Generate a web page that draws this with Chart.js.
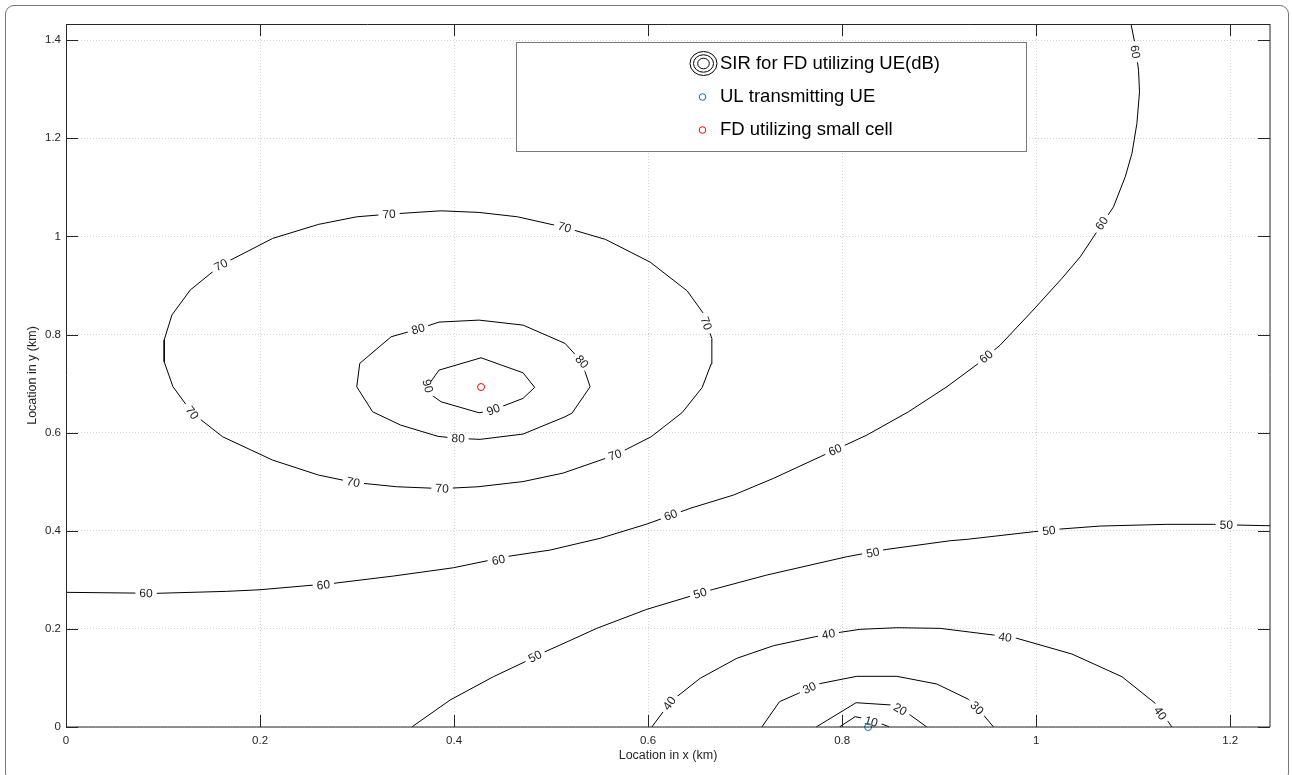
<!DOCTYPE html>
<html lang="en">
<head>
<meta charset="UTF-8">
<title>SIR for FD utilizing UE</title>
<script src="https://cdn.jsdelivr.net/npm/chart.js"></script>
<style>
  body { margin: 0; background: #fff; }
  #wrap { position: relative; width: 1292px; height: 775px; overflow: hidden; }
  #frame { position: absolute; left: 5px; top: 5px; width: 1282px; height: 775px;
           border: 1.5px solid #777; border-radius: 9px; pointer-events: none; }
</style>
</head>
<body>
<div id="wrap">
  <canvas id="sirChart" width="1292" height="775"></canvas>
  <div id="frame"></div>
</div>
<script>
// axis ranges (km)
const xMax = 1.241;
const yMax = 1.433;
const tickStep = 0.2;

// contour levels (dB) and their line points [x, y] in km
const c90 = [[0.4278,0.7526],[0.4711,0.7220],[0.4831,0.6923],[0.4711,0.6699],[0.4405,0.6466],[0.4258,0.6405],
             [0.3866,0.6629],[0.3746,0.6801],[0.3727,0.6949],[0.3845,0.7275],[0.4278,0.7526]];
const c80 = [[0.3845,0.8254],[0.4258,0.8294],[0.4711,0.8192],[0.5144,0.7819],[0.5316,0.7445],[0.5402,0.6935],
             [0.5216,0.6399],[0.5144,0.6324],[0.4711,0.5971],[0.4268,0.5863],[0.4041,0.5883],[0.3835,0.5924],
             [0.3448,0.6155],[0.3160,0.6426],[0.2997,0.6935],[0.3028,0.7412],[0.3351,0.7954],[0.3629,0.8111],
             [0.3845,0.8254]];
const c70 = [[0.1012,0.7887],[0.1012,0.7445],[0.1103,0.6935],[0.1299,0.6405],[0.1615,0.5916],[0.2129,0.5441],
             [0.2602,0.5136],[0.2962,0.4987],[0.3409,0.4897],[0.3876,0.4860],[0.4247,0.4897],[0.4711,0.5003],
             [0.5124,0.5176],[0.5660,0.5543],[0.6031,0.5916],[0.6351,0.6409],[0.6557,0.6919],[0.6649,0.7398],
             [0.6657,0.7921],[0.6598,0.8227],[0.6570,0.8431],[0.6402,0.8891],[0.6021,0.9476],[0.5561,0.9939],
             [0.5139,1.0184],[0.4654,1.0400],[0.4258,1.0489],[0.3864,1.0522],[0.3330,1.0454],[0.2997,1.0400],
             [0.2602,1.0245],[0.2129,0.9959],[0.1596,0.9415],[0.1280,0.8906],[0.1091,0.8396],[0.1012,0.7887]];
const c60 = [[0,0.2745],[0.0935,0.2725],[0.1657,0.2765],[0.2000,0.2798],[0.2756,0.2928],[0.3374,0.3077],
             [0.3993,0.3246],[0.4577,0.3485],[0.4990,0.3607],[0.5505,0.3846],[0.5987,0.4137],[0.6433,0.4457],
             [0.6880,0.4728],[0.7292,0.5068],[0.7773,0.5508],[0.8255,0.5951],[0.8684,0.6426],[0.9079,0.6935],
             [0.9405,0.7412],[0.9629,0.7785],[0.9959,0.8478],[1.0265,0.9144],[1.0454,0.9584],[1.0591,0.9992],
             [1.0797,1.0603],[1.0918,1.1215],[1.0987,1.1692],[1.1038,1.2303],[1.1065,1.2947],[1.1055,1.3389],
             [1.1021,1.3899],[1.0977,1.4330]];
const c50 = [[0.3564,0],[0.3959,0.0550],[0.4405,0.1025],[0.4732,0.1331],[0.4938,0.1535],[0.5093,0.1671],
             [0.5471,0.2011],[0.5987,0.2399],[0.6536,0.2725],[0.6673,0.2806],[0.7224,0.3098],[0.8048,0.3471],
             [0.8461,0.3621],[0.9113,0.3797],[0.9286,0.3825],[0.9972,0.3980],[1.0247,0.4035],[1.0660,0.4096],
             [1.1347,0.4131],[1.1828,0.4131],[1.2069,0.4117],[1.2412,0.4102]];
const c40 = [[0.6038,0],[0.6220,0.0483],[0.6296,0.0617],[0.6536,0.0992],[0.6914,0.1400],[0.7292,0.1657],
             [0.7722,0.1840],[0.7979,0.1930],[0.8186,0.1991],[0.8564,0.2024],[0.9010,0.2011],[0.9560,0.1875],
             [0.9801,0.1808],[1.0368,0.1488],[1.0884,0.1025],[1.1227,0.0483],[1.1399,0]];
const c30 = [[0.7172,0],[0.7354,0.0516],[0.7549,0.0687],[0.7773,0.0886],[0.8151,0.1033],[0.8564,0.1033],
             [0.8976,0.0876],[0.9302,0.0565],[0.9457,0.0245],[0.9560,0]];
const c20 = [[0.7732,0],[0.8144,0.0495],[0.8512,0.0448],[0.8701,0.0245],[0.8873,0]];
const c10 = [[0.7972,0],[0.8134,0.0210],[0.8220,0.0177],[0.8392,0.0075],[0.8488,0]];

// where the inline level labels sit [x, y] in km
const lab90 = [[0.3727,0.6949],[0.4405,0.6466]];
const lab80 = [[0.3629,0.8111],[0.5316,0.7445],[0.4041,0.5883]];
const lab70 = [[0.1598,0.9415],[0.3330,1.0454],[0.5139,1.0184],[0.6598,0.8227],[0.5660,0.5543],
               [0.3876,0.4860],[0.2962,0.4987],[0.1299,0.6405]];
const lab60 = [[0.0825,0.2725],[0.2653,0.2894],[0.4457,0.3403],[0.6234,0.4320],[0.7928,0.5645],
               [0.9485,0.7546],[1.0677,1.0265],[1.1021,1.3762]];
const lab50 = [[0.4835,0.1433],[0.6536,0.2725],[0.8316,0.3552],[1.0131,0.4000],[1.1959,0.4117]];
const lab40 = [[0.6220,0.0483],[0.7859,0.1889],[0.9680,0.1828],[1.1278,0.0279]];
const lab30 = [[0.7663,0.0795],[0.9389,0.0387]];
const lab20 = [[0.8598,0.0361]];
const lab10 = [[0.8299,0.0108]];

// node positions (km)
const ueX = [0.8268], ueY = [0];
const cellX = [0.4278], cellY = [0.693];

const legendItems = ['SIR for FD utilizing UE(dB)', 'UL transmitting UE', 'FD utilizing small cell'];

const contours = [
  { level: 10, pts: c10, labels: lab10 }, { level: 20, pts: c20, labels: lab20 },
  { level: 30, pts: c30, labels: lab30 }, { level: 40, pts: c40, labels: lab40 },
  { level: 50, pts: c50, labels: lab50 }, { level: 60, pts: c60, labels: lab60 },
  { level: 70, pts: c70, labels: lab70 }, { level: 80, pts: c80, labels: lab80 },
  { level: 90, pts: c90, labels: lab90 }
];

const FONT = '"Liberation Sans", Arial, Helvetica, sans-serif';
Chart.defaults.font.family = FONT;
Chart.defaults.color = '#262626';

const fmt = v => String(Math.round(v * 10) / 10);

function drawContourLabels(chart, ds) {
  const { ctx, scales: { x, y } } = chart;
  const pix = ds.data.map(p => [x.getPixelForValue(p.x), y.getPixelForValue(p.y)]);
  const txt = String(ds.level);
  ctx.save();
  ctx.font = '12px ' + FONT;
  ctx.textAlign = 'center';
  ctx.textBaseline = 'middle';
  const w = ctx.measureText(txt).width;
  ds.labelsAt.forEach(([lx, ly]) => {
    const px = x.getPixelForValue(lx), py = y.getPixelForValue(ly);
    let best = Infinity, ang = 0;
    for (let i = 0; i < pix.length - 1; i++) {
      const [x1, y1] = pix[i], [x2, y2] = pix[i + 1];
      const dx = x2 - x1, dy = y2 - y1, len2 = dx * dx + dy * dy || 1;
      let t = ((px - x1) * dx + (py - y1) * dy) / len2;
      t = Math.max(0, Math.min(1, t));
      const d = Math.hypot(x1 + t * dx - px, y1 + t * dy - py);
      if (d < best) { best = d; ang = Math.atan2(dy, dx); }
    }
    if (ang > Math.PI / 2) ang -= Math.PI;
    else if (ang <= -Math.PI / 2) ang += Math.PI;
    ctx.save();
    ctx.translate(px, py);
    ctx.rotate(ang);
    ctx.fillStyle = '#fff';
    ctx.fillRect(-w / 2 - 4, -4, w + 8, 8);
    ctx.fillStyle = '#1a1a1a';
    ctx.fillText(txt, 0, 0.5);
    ctx.restore();
  });
  ctx.restore();
}

function drawBox(chart) {
  const { ctx, chartArea: { left, right, top, bottom }, scales: { x, y } } = chart;
  ctx.save();
  ctx.strokeStyle = '#262626';
  ctx.lineWidth = 1;
  ctx.beginPath();
  // inward tick marks on all four sides
  x.ticks.forEach(t => {
    const px = Math.round(x.getPixelForValue(t.value)) + 0.5;
    ctx.moveTo(px, bottom); ctx.lineTo(px, bottom - 12);
    ctx.moveTo(px, top); ctx.lineTo(px, top + 12);
  });
  y.ticks.forEach(t => {
    const py = Math.round(y.getPixelForValue(t.value)) + 0.5;
    ctx.moveTo(left, py); ctx.lineTo(left + 12, py);
    ctx.moveTo(right, py); ctx.lineTo(right - 12, py);
  });
  ctx.stroke();
  ctx.beginPath();
  ctx.moveTo(left + 0.5, bottom); ctx.lineTo(left + 0.5, top + 0.5); ctx.lineTo(right, top + 0.5);
  ctx.stroke();
  ctx.beginPath();
  ctx.moveTo(right, top); ctx.lineTo(right, bottom); ctx.lineTo(left, bottom);
  ctx.stroke();
  ctx.restore();
}

function drawLegend(chart) {
  const ctx = chart.ctx;
  ctx.save();
  ctx.fillStyle = '#fff';
  ctx.fillRect(516, 42, 510, 109);
  ctx.strokeStyle = '#7a7a7a';
  ctx.lineWidth = 1;
  ctx.strokeRect(516.5, 42.5, 510, 109);

  const ix = 703.5, rows = [63.5, 97, 130];
  // concentric contour icon
  ctx.strokeStyle = '#000';
  [[13.5, 12], [10, 8.7], [5.8, 5.3]].forEach(([rx, ry]) => {
    ctx.beginPath();
    ctx.ellipse(ix, rows[0], rx, ry, 0, 0, Math.PI * 2);
    ctx.stroke();
  });
  ctx.strokeStyle = '#0072BD';
  ctx.beginPath(); ctx.arc(ix - 1, rows[1], 3.3, 0, Math.PI * 2); ctx.stroke();
  ctx.strokeStyle = '#FF0000';
  ctx.beginPath(); ctx.arc(ix - 1, rows[2], 3.3, 0, Math.PI * 2); ctx.stroke();

  ctx.fillStyle = '#000';
  ctx.font = '18.5px ' + FONT;
  ctx.textBaseline = 'middle';
  legendItems.forEach((t, i) => ctx.fillText(t, 720, rows[i]));
  ctx.restore();
}

const overlay = {
  id: 'overlay',
  afterDatasetDraw(chart, args) {
    const ds = chart.data.datasets[args.index];
    if (ds.labelsAt) drawContourLabels(chart, ds);
  },
  afterDraw(chart) {
    drawBox(chart);
    drawLegend(chart);
  }
};

const datasets = [
  {
    label: legendItems[1],
    data: ueX.map((v, i) => ({ x: v, y: ueY[i] })),
    pointRadius: 3.5, borderWidth: 1, borderColor: '#0072BD',
    backgroundColor: 'rgba(0,0,0,0)', showLine: false, clip: false
  },
  {
    label: legendItems[2],
    data: cellX.map((v, i) => ({ x: v, y: cellY[i] })),
    pointRadius: 3.5, borderWidth: 1, borderColor: '#FF0000',
    backgroundColor: 'rgba(0,0,0,0)', showLine: false, clip: false
  }
].concat(contours.map(c => ({
  label: 'SIR ' + c.level,
  level: c.level,
  labelsAt: c.labels,
  data: c.pts.map(p => ({ x: p[0], y: p[1] })),
  showLine: true, pointRadius: 0, borderColor: '#000', borderWidth: 1, tension: 0
})));

new Chart(document.getElementById('sirChart'), {
  type: 'scatter',
  data: { datasets: datasets },
  options: {
    responsive: false,
    animation: false,
    events: [],
    layout: { padding: { left: 0, top: 24, right: 22, bottom: 0 } },
    plugins: { legend: { display: false }, tooltip: { enabled: false } },
    scales: {
      x: {
        type: 'linear', min: 0, max: xMax,
        afterFit: s => { s.height = 48; },
        ticks: { stepSize: tickStep, includeBounds: false, padding: 7, maxRotation: 0,
                 font: { size: 11.5 }, callback: fmt },
        grid: { color: 'rgba(38,38,38,0.2)', drawTicks: false, lineWidth: 1 },
        border: { display: false, dash: [1, 2] },
        title: { display: true, text: 'Location in x (km)', font: { size: 12.5 },
                 padding: { top: 0, bottom: 11.5 } }
      },
      y: {
        type: 'linear', min: 0, max: yMax,
        afterFit: s => { s.width = 66; },
        ticks: { stepSize: tickStep, includeBounds: false, padding: 5,
                 font: { size: 11.5 }, callback: fmt },
        grid: { color: 'rgba(38,38,38,0.2)', drawTicks: false, lineWidth: 1 },
        border: { display: false, dash: [1, 2] },
        title: { display: true, text: 'Location in y (km)', font: { size: 12.5 },
                 padding: { top: 25.5, bottom: 0 } }
      }
    }
  },
  plugins: [overlay]
});
</script>
</body>
</html>
